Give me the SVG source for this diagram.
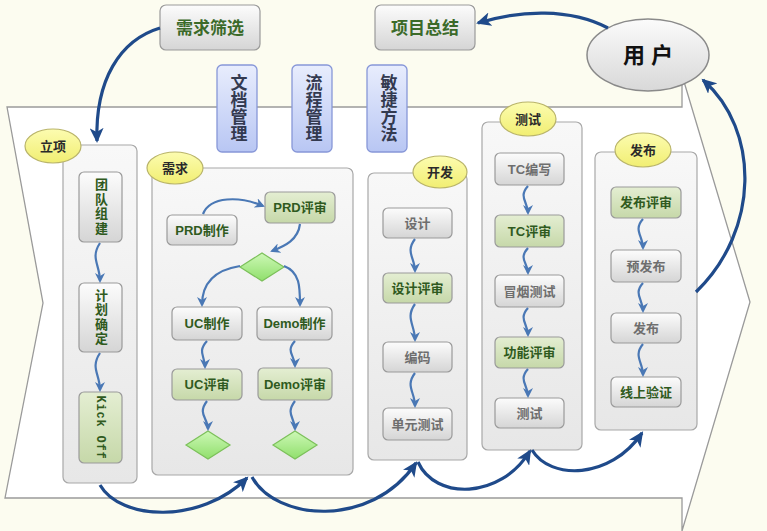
<svg xmlns="http://www.w3.org/2000/svg" width="767" height="531" viewBox="0 0 767 531">
<style>
text{font-family:"Liberation Sans","Noto Sans CJK SC",sans-serif;font-weight:bold;text-anchor:middle}
.box{fill:url(#gbox);stroke:#9a9a9a;stroke-width:1.2}
.gbx{fill:url(#ggreen);stroke:#9a9a9a;stroke-width:1.2}
.cont{fill:url(#gcont);stroke:#a8a8a8;stroke-width:1.2}
.lbl{fill:url(#gyel);stroke:#b9b46a;stroke-width:1.2}
.dia{fill:url(#gdia);stroke:#7cc05a;stroke-width:1.2}
.blue{fill:url(#gblue);stroke:#8797d8;stroke-width:1.3}
.tb{font-size:13px;fill:#2f5a20}
.tg{font-size:13px;fill:#6e6e6e}
.tl{font-size:13px;fill:#2a2a2a}
.tv{font-size:17px;fill:#333a50;writing-mode:vertical-rl}
.vt{font-size:13px;fill:#2f5a20;writing-mode:vertical-rl;letter-spacing:1.5px}
.big{fill:none;stroke:#1f4a8a;stroke-width:3.2}
.sm{fill:none;stroke:#4a78b5;stroke-width:2.2}
</style>
<defs>
<linearGradient id="gbox" x1="0" y1="0" x2="0" y2="1"><stop offset="0" stop-color="#fcfcfc"/><stop offset="1" stop-color="#d5d5d5"/></linearGradient>
<linearGradient id="ggreen" x1="0" y1="0" x2="0" y2="1"><stop offset="0" stop-color="#e4eed2"/><stop offset="1" stop-color="#c6d8a9"/></linearGradient>
<linearGradient id="gcont" x1="0" y1="0" x2="0" y2="1"><stop offset="0" stop-color="#f8f8f8"/><stop offset="1" stop-color="#e7e7e7"/></linearGradient>
<linearGradient id="gyel" x1="0" y1="0" x2="0" y2="1"><stop offset="0" stop-color="#fcfcb0"/><stop offset="1" stop-color="#f1ee72"/></linearGradient>
<linearGradient id="gdia" x1="0" y1="0" x2="0" y2="1"><stop offset="0" stop-color="#cdf8b6"/><stop offset="1" stop-color="#90df6c"/></linearGradient>
<linearGradient id="gblue" x1="0" y1="0" x2="0" y2="1"><stop offset="0" stop-color="#e8edfd"/><stop offset="1" stop-color="#b8c6f3"/></linearGradient>
<linearGradient id="gell" x1="0" y1="0" x2="0" y2="1"><stop offset="0" stop-color="#fbfbfb"/><stop offset="1" stop-color="#d8d8d8"/></linearGradient>
<marker id="mb" markerWidth="16" markerHeight="14" refX="13" refY="7" orient="auto" markerUnits="userSpaceOnUse"><path d="M0,0 L15,7 L0,14 L4,7 z" fill="#1f4a8a"/></marker>
<marker id="ms" markerWidth="10" markerHeight="10" refX="8" refY="5" orient="auto" markerUnits="userSpaceOnUse"><path d="M0,0 L10,5 L0,10 L3,5 z" fill="#4a78b5"/></marker>
</defs>
<rect x="0" y="0" width="767" height="531" fill="#fcfcf0"/>
<path id="chevron" d="M7,107 L682,107 L682,75 L750,302 L682,531 L682,498 L5,498 L43,303 Z" fill="#ffffff" stroke="#9a9a9a" stroke-width="1.3"/>

<g id="xuqiushaixuan"><rect class="box" x="160" y="5" width="100" height="45" rx="6"/><text x="210" y="34" style="font-size:17px;fill:#3b6a29">需求筛选</text></g>
<g id="xiangmuzongjie"><rect class="box" x="375" y="5" width="100" height="45" rx="6"/><text x="425" y="34" style="font-size:17px;fill:#3b6a29">项目总结</text></g>
<g id="yonghu"><ellipse cx="648" cy="55" rx="61" ry="36" fill="url(#gell)" stroke="#8a8a8a" stroke-width="1.5"/><text x="648" y="63" style="font-size:22px;fill:#111">用 户</text></g>

<g id="wendang"><rect class="blue" x="217" y="65" width="40" height="87" rx="5"/><text class="tv" x="237" y="108.5">文档管理</text></g>
<g id="liucheng"><rect class="blue" x="292" y="65" width="40" height="87" rx="5"/><text class="tv" x="312" y="108.5">流程管理</text></g>
<g id="minjie"><rect class="blue" x="367" y="65" width="40" height="87" rx="5"/><text class="tv" x="387" y="108.5">敏捷方法</text></g>

<g id="lixiang">
<rect class="cont" x="63" y="145" width="74" height="338" rx="6"/>
<ellipse class="lbl" cx="53" cy="146" rx="28" ry="17"/><text class="tl" x="53" y="151">立项</text>
</g>
<g id="tuanduizujian"><rect class="box" x="79" y="172" width="43" height="70" rx="5"/><text class="vt" x="100.5" y="207">团队组建</text></g>
<g id="jihuaqueding"><rect class="box" x="79" y="283" width="43" height="69" rx="5"/><text class="vt" x="100.5" y="317.5">计划确定</text></g>
<g id="kickoff"><rect class="gbx" x="79" y="392" width="43" height="71" rx="5"/><text transform="translate(100.5 427.5) rotate(90)" x="0" y="4" style="font-family:'Liberation Mono','DejaVu Sans Mono',monospace;font-size:12px;letter-spacing:0.8px;fill:#2f5a20">Kick Off</text></g>

<g id="xuqiu">
<rect class="cont" x="152" y="168" width="201" height="307" rx="6"/>
<ellipse class="lbl" cx="175" cy="168" rx="28" ry="16"/><text class="tl" x="175" y="173">需求</text>
</g>
<g id="prdzhizuo"><rect class="box" x="167" y="215" width="70" height="30" rx="5"/><text class="tb" x="202" y="234.5">PRD制作</text></g>
<g id="prdpingshen"><rect class="gbx" x="265" y="192" width="70" height="31" rx="5"/><text class="tb" x="300" y="212">PRD评审</text></g>
<g id="dia1"><path class="dia" d="M240,267 L262,253 L284,267 L262,281 Z"/></g>
<g id="uczhizuo"><rect class="box" x="172" y="307" width="70" height="33" rx="5"/><text class="tb" x="207" y="328">UC制作</text></g>
<g id="demozhizuo"><rect class="box" x="257" y="307" width="75" height="33" rx="5"/><text class="tb" x="294.5" y="328">Demo制作</text></g>
<g id="ucpingshen"><rect class="gbx" x="172" y="369" width="70" height="31" rx="5"/><text class="tb" x="207" y="389">UC评审</text></g>
<g id="demopingshen"><rect class="gbx" x="258" y="368" width="74" height="32" rx="5"/><text class="tb" x="295" y="388.5">Demo评审</text></g>
<g id="dia2"><path class="dia" d="M186,445 L208,431 L230,445 L208,459 Z"/></g>
<g id="dia3"><path class="dia" d="M273,445 L295,431 L317,445 L295,459 Z"/></g>

<g id="kaifa">
<rect class="cont" x="368" y="173" width="99" height="287" rx="6"/>
<ellipse class="lbl" cx="440" cy="172" rx="27" ry="16"/><text class="tl" x="440" y="177">开发</text>
</g>
<g id="sheji"><rect class="box" x="383" y="208" width="69" height="30" rx="5"/><text class="tg" x="417.5" y="227.5">设计</text></g>
<g id="shejipingshen"><rect class="gbx" x="383" y="273" width="69" height="30" rx="5"/><text class="tb" x="417.5" y="292.5">设计评审</text></g>
<g id="bianma"><rect class="box" x="383" y="342" width="69" height="30" rx="5"/><text class="tg" x="417.5" y="361.5">编码</text></g>
<g id="danyuanceshi"><rect class="box" x="383" y="408" width="69" height="32" rx="5"/><text class="tg" x="417.5" y="428.5">单元测试</text></g>

<g id="ceshi">
<rect class="cont" x="482" y="122" width="100" height="328" rx="6"/>
<ellipse class="lbl" cx="528" cy="119" rx="28" ry="17"/><text class="tl" x="528" y="124">测试</text>
</g>
<g id="tcbianxie"><rect class="box" x="495" y="153" width="69" height="32" rx="5"/><text class="tg" x="529.5" y="173.5">TC编写</text></g>
<g id="tcpingshen"><rect class="gbx" x="495" y="215" width="69" height="32" rx="5"/><text class="tb" x="529.5" y="235.5">TC评审</text></g>
<g id="maoyan"><rect class="box" x="495" y="275" width="69" height="32" rx="5"/><text class="tg" x="529.5" y="295.5">冒烟测试</text></g>
<g id="gongneng"><rect class="gbx" x="495" y="337" width="69" height="31" rx="5"/><text class="tb" x="529.5" y="357">功能评审</text></g>
<g id="ceshi2"><rect class="box" x="495" y="398" width="69" height="30" rx="5"/><text class="tg" x="529.5" y="417.5">测试</text></g>

<g id="fabu">
<rect class="cont" x="595" y="152" width="102" height="278" rx="6"/>
<ellipse class="lbl" cx="643" cy="150" rx="28" ry="17"/><text class="tl" x="643" y="155">发布</text>
</g>
<g id="fabupingshen"><rect class="gbx" x="611" y="187" width="70" height="31" rx="5"/><text class="tb" x="646" y="207">发布评审</text></g>
<g id="yufabu"><rect class="box" x="611" y="250" width="70" height="32" rx="5"/><text class="tg" x="646" y="270.5">预发布</text></g>
<g id="fabu2"><rect class="box" x="611" y="313" width="70" height="30" rx="5"/><text class="tg" x="646" y="332.5">发布</text></g>
<g id="xianshang"><rect class="box" x="611" y="377" width="70" height="30" rx="5"/><text class="tb" x="646" y="396.5">线上验证</text></g>

<g id="connectors">
<path class="big" d="M160,28 C120,40 95,80 97,141" marker-end="url(#mb)"/>
<path class="big" d="M608,28 C570,8 520,10 478,23" marker-end="url(#mb)"/>
<path class="big" d="M696,292 C760,230 760,130 703,80" marker-end="url(#mb)"/>
<path class="big" d="M100,485 C120,520 200,525 247,478" marker-end="url(#mb)"/>
<path class="big" d="M252,477 C275,520 370,530 416,463" marker-end="url(#mb)"/>
<path class="big" d="M418,462 C435,500 500,500 530,451" marker-end="url(#mb)"/>
<path class="big" d="M532,450 C550,480 610,480 642,433" marker-end="url(#mb)"/>

<path class="sm" d="M100,243 C90,258 100,265 100,281" marker-end="url(#ms)"/>
<path class="sm" d="M100,353 C90,368 100,374 100,390" marker-end="url(#ms)"/>

<path class="sm" d="M203,214 C210,196 240,196 263,206" marker-end="url(#ms)"/>
<path class="sm" d="M300,224 C298,240 285,246 272,251" marker-end="url(#ms)"/>
<path class="sm" d="M240,266 C215,270 202,282 202,305" marker-end="url(#ms)"/>
<path class="sm" d="M284,266 C300,272 300,287 300,305" marker-end="url(#ms)"/>
<path class="sm" d="M207,341 C197,352 205,356 205,367" marker-end="url(#ms)"/>
<path class="sm" d="M295,341 C285,352 295,355 295,366" marker-end="url(#ms)"/>
<path class="sm" d="M207,401 C197,414 208,418 208,429" marker-end="url(#ms)"/>
<path class="sm" d="M295,401 C285,414 295,418 295,429" marker-end="url(#ms)"/>

<path class="sm" d="M415,239 C405,252 415,258 415,271" marker-end="url(#ms)"/>
<path class="sm" d="M415,304 C405,318 415,325 415,340" marker-end="url(#ms)"/>
<path class="sm" d="M415,373 C405,386 415,392 415,406" marker-end="url(#ms)"/>

<path class="sm" d="M528,186 C518,197 528,202 528,213" marker-end="url(#ms)"/>
<path class="sm" d="M528,248 C518,259 528,263 528,273" marker-end="url(#ms)"/>
<path class="sm" d="M528,308 C518,319 528,324 528,335" marker-end="url(#ms)"/>
<path class="sm" d="M528,369 C518,380 528,385 528,396" marker-end="url(#ms)"/>

<path class="sm" d="M643,219 C633,230 643,236 643,248" marker-end="url(#ms)"/>
<path class="sm" d="M643,283 C633,294 643,299 643,311" marker-end="url(#ms)"/>
<path class="sm" d="M643,344 C633,356 643,362 643,375" marker-end="url(#ms)"/>
</g>
</svg>
